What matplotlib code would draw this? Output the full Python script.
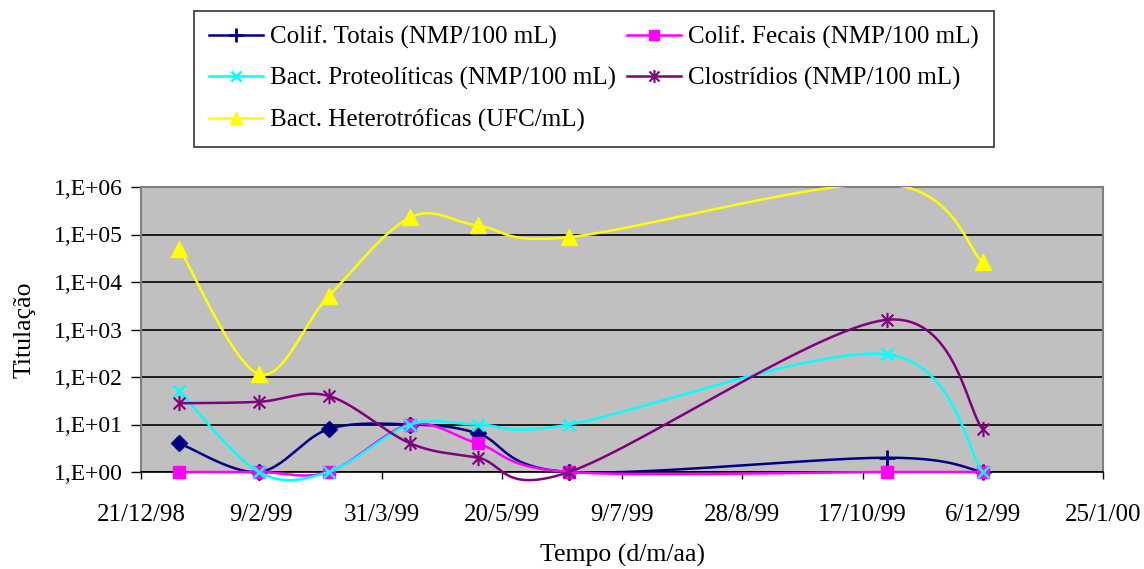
import numpy as np
import datetime as dt
import matplotlib
matplotlib.use('Agg')
import matplotlib.pyplot as plt
import matplotlib.dates as mdates
from matplotlib.path import Path
from matplotlib.ticker import FixedLocator, FuncFormatter

plt.rcParams['font.family'] = ['Liberation Serif', 'DejaVu Serif']

# dados
datas = ['1999-01-06', '1999-02-08', '1999-03-09', '1999-04-12',
         '1999-05-10', '1999-06-17', '1999-10-27', '1999-12-06']
totais = [4, 1, 8, 10, 6.5, 1, 2, 1]
fecais = [1, 1, 1, 10, 4, 1, 1, 1]
proteol = [50, 1, 1, 10, 10, 10, 300, 1]
clostr = [28, 30, 40, 4, 2, 1, 1600, 8]
hetero = [50000, 115, 5000, 230000, 155000, 88000, 1150000, 26000]

nomes = ['Colif. Totais (NMP/100 mL)', 'Colif. Fecais (NMP/100 mL)',
         'Bact. Proteolíticas (NMP/100 mL)', 'Clostrídios (NMP/100 mL)',
         'Bact. Heterotróficas (UFC/mL)']
cores = ['#000080', '#FF00FF', '#00FFFF', '#800080', '#FFFF00']

xini = dt.date(1998, 12, 21)
xfim = dt.date(2000, 1, 25)
ymax = 1e6

W, H = 1144, 569
fig = plt.figure(figsize=(W / 100, H / 100), dpi=100)
ax = fig.add_axes([141 / W, 1 - 472 / H, (1103 - 141) / W, (472 - 187) / H])
ax.set_facecolor('#C0C0C0')

x = mdates.date2num([dt.date.fromisoformat(d) for d in datas])
x0, x1 = mdates.date2num(xini), mdates.date2num(xfim)
ax.set_xlim(x0, x1)
ax.set_yscale('log')
ax.set_ylim(1, ymax)

# escala em pixels para suavizar como o Excel
sx = 962 / (x1 - x0)
sy = 47.5


def suave(xs, ys, n=30):
    p = np.column_stack([np.asarray(xs) * sx, np.log10(ys) * sy])
    p = np.vstack([p[0], p, p[-1]])
    out = []
    t = np.linspace(0, 1, n)[:, None]
    for i in range(1, len(p) - 2):
        a, b = p[i], p[i + 1]
        c1 = a + (p[i + 1] - p[i - 1]) / 6
        c2 = b - (p[i + 2] - p[i]) / 6
        seg = ((1 - t) ** 3 * a + 3 * (1 - t) ** 2 * t * c1
               + 3 * (1 - t) * t ** 2 * c2 + t ** 3 * b)
        out.append(seg if i == 1 else seg[1:])
    out = np.vstack(out)
    return out[:, 0] / sx, 10 ** (out[:, 1] / sy)


ast = Path([(-1, -1), (1, 1), (-1, 1), (1, -1), (0, -1.3), (0, 1.3)],
           [Path.MOVETO, Path.LINETO, Path.MOVETO, Path.LINETO,
            Path.MOVETO, Path.LINETO])

estilos = [dict(marker='+', ms=12, mew=2),
           dict(marker='s', ms=9, mew=1),
           dict(marker='x', ms=9, mew=1.8),
           dict(marker=ast, ms=11, mew=1.5),
           dict(marker='^', ms=11, mew=1)]

series = [totais, fecais, proteol, clostr, hetero]
handles = []
for k, ys in enumerate(series):
    ys = np.asarray(ys, dtype=float)
    xs_s, ys_s = suave(x, ys)
    dentro = ys <= ymax
    livre = k < 4
    ax.plot(xs_s, ys_s, color=cores[k], lw=1.8, zorder=3 + k, clip_on=not livre)
    if k == 0:
        ax.plot(x[:6], ys[:6], ls='none', marker='D', ms=8,
                color=cores[0], zorder=3, clip_on=False)
        ax.plot(x[6:], ys[6:], ls='none', color=cores[k], zorder=3,
                clip_on=False, **estilos[k])
    else:
        ax.plot(x[dentro], ys[dentro], ls='none', color=cores[k],
                mfc=cores[k], mec=cores[k], zorder=3 + k, clip_on=False,
                **estilos[k])
    st = dict(estilos[k])
    st['ms'] = st['ms'] * 0.85
    h, = ax.plot([], [], color=cores[k], lw=1.8, label=nomes[k], **st)
    handles.append(h)

ax.yaxis.set_major_locator(FixedLocator([10.0 ** e for e in range(7)]))
ax.yaxis.set_minor_locator(FixedLocator([]))
ax.yaxis.set_major_formatter(FuncFormatter(lambda v, p: '1,E+%02d' % round(np.log10(v))))
ax.grid(True, axis='y', color='black', lw=1.2, zorder=1)

xt = np.arange(x0, x1 + 1, 50)
ax.xaxis.set_major_locator(FixedLocator(xt))
ax.xaxis.set_major_formatter(FuncFormatter(
    lambda v, p: '%d/%d/%s' % (mdates.num2date(v).day, mdates.num2date(v).month,
                               mdates.num2date(v).strftime('%y'))))

ax.tick_params(axis='y', length=7, width=1, labelsize=17, pad=6)
ax.tick_params(axis='x', length=5, width=1, labelsize=18, pad=18)
for s in ['left', 'right', 'top']:
    ax.spines[s].set_color('#808080')
    ax.spines[s].set_linewidth(1.5)
ax.spines['bottom'].set_color('black')
ax.spines['bottom'].set_linewidth(1.2)

ax.set_ylabel('Titulação', fontsize=18.5, labelpad=13)
ax.set_xlabel('Tempo (d/m/aa)', fontsize=18.5, labelpad=13)

# legenda preenchida por linhas, como no Excel
ordem = [0, 2, 4, 1, 3]
leg = fig.legend([handles[i] for i in ordem], [nomes[i] for i in ordem],
                 ncol=2, loc='upper left',
                 bbox_to_anchor=(194 / W, 1 - 11 / H),
                 fontsize=18, frameon=True, fancybox=False,
                 edgecolor='black', handlelength=2.16, handletextpad=0.28,
                 columnspacing=0.44, labelspacing=0.72, borderpad=0.6,
                 borderaxespad=0)
leg.get_frame().set_linewidth(1.2)

fig.savefig('out.png', dpi=100)
